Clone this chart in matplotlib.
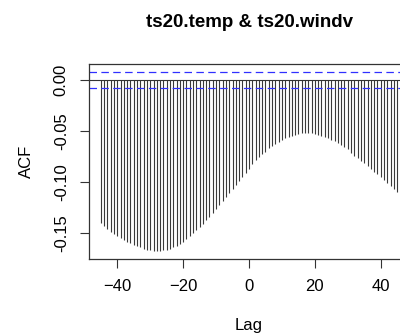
"""Cross-correlation plot of ts20.temp and ts20.windv (R ccf style)."""

import matplotlib

matplotlib.use("Agg")
import matplotlib.pyplot as plt

# lags shown in the cross-correlation plot
lags = list(range(-45, 46))

# sample cross-correlation at each lag
ccf_values = [
    -0.140, -0.143, -0.146, -0.149, -0.151, -0.153, -0.155, -0.157, -0.159, -0.160,
    -0.162, -0.163, -0.164, -0.166, -0.167, -0.167, -0.168, -0.168, -0.168, -0.167,
    -0.167, -0.166, -0.164, -0.163, -0.161, -0.159, -0.156, -0.153, -0.150, -0.147,
    -0.144, -0.141, -0.137, -0.134, -0.130, -0.126, -0.122, -0.119, -0.115, -0.111,
    -0.107, -0.103, -0.099, -0.095, -0.091, -0.087, -0.082, -0.078, -0.075, -0.072,
    -0.070, -0.067, -0.065, -0.063, -0.061, -0.059, -0.057, -0.056, -0.055, -0.054,
    -0.053, -0.052, -0.052, -0.052, -0.052, -0.053, -0.054, -0.055, -0.056, -0.057,
    -0.059, -0.060, -0.062, -0.064, -0.066, -0.068, -0.071, -0.074, -0.076, -0.079,
    -0.081, -0.084, -0.087, -0.090, -0.092, -0.095, -0.098, -0.101, -0.104, -0.107,
    -0.110,
]

# approximate 95% confidence bound
ci_bound = 0.0077

x_ticks = [-40, -20, 0, 20, 40]
y_ticks = [0.0, -0.05, -0.10, -0.15]
y_tick_labels = ["0.00", "-0.05", "-0.10", "-0.15"]

plt.rcParams["font.family"] = ["Liberation Sans", "DejaVu Sans"]

fig = plt.figure(figsize=(4.0, 3.36), dpi=100)
# the right side of the plot region runs past the edge of the picture
ax = fig.add_axes([0.2225, 0.229, 0.80, 0.580])

ax.vlines(lags, 0, ccf_values, color="#3a3a3a", linewidth=0.8)
ax.axhline(0, color="#333333", linewidth=0.8)
for bound in (ci_bound, -ci_bound):
    ax.axhline(bound, color="#3030ff", linewidth=0.9, linestyle=(0, (6, 3.5)))

ax.set_xlim(-48.6, 48.6)
ax.set_ylim(-0.1755, 0.0157)

ax.set_xticks(x_ticks)
ax.set_yticks(y_ticks)
ax.set_yticklabels(y_tick_labels, rotation=90, va="center")
ax.tick_params(axis="both", direction="out", length=6.5, width=0.8, labelsize=12, pad=8,
               color="#333333")

for spine in ax.spines.values():
    spine.set_linewidth(0.9)
    spine.set_color("#333333")

ax.set_xlabel("Lag", fontsize=12, labelpad=17)
ax.set_ylabel("ACF", fontsize=12, labelpad=14)
ax.set_title("ts20.temp & ts20.windv", fontsize=13.5, fontweight="bold", pad=27)

fig.savefig("out.png", dpi=100)
